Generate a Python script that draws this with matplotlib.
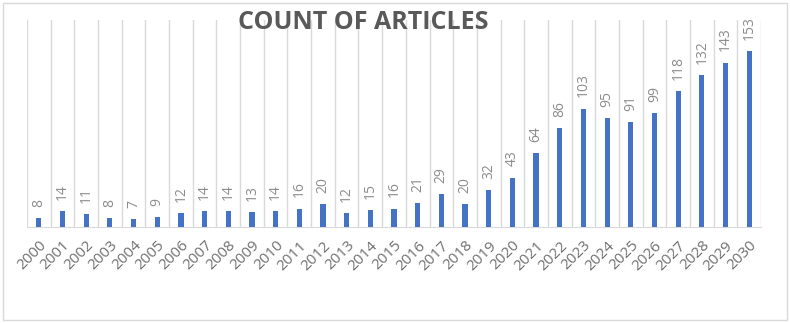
import numpy as np
import matplotlib
matplotlib.use("Agg")
import matplotlib.pyplot as plt
from matplotlib.patches import Rectangle

years = [str(y) for y in range(2000, 2031)]
counts = [8, 14, 11, 8, 7, 9, 12, 14, 14, 13, 14, 16, 20, 12, 15, 16,
          21, 29, 20, 32, 43, 64, 86, 103, 95, 91, 99, 118, 132, 143, 153]

plt.rcParams['font.family'] = ['Open Sans', 'DejaVu Sans']

fig = plt.figure(figsize=(7.9, 3.23), dpi=100)
ax = fig.add_axes([0.0342, 0.2972, 0.9291, 0.6408])

x = np.arange(len(years))
bars = ax.bar(x, counts, width=0.22, color='#4472C4', zorder=3)
ax.bar_label(bars, labels=[str(c) for c in counts], rotation=90,
             padding=8, color='#8c8c8c', fontsize=10)

ax.set_xlim(-0.5, len(years) - 0.5)
ax.set_ylim(0, 180)
ax.set_xticks(x)
ax.set_xticklabels(years, rotation=45, ha='right', va='top',
                   rotation_mode='anchor', color='#6f6f6f', fontsize=11)
ax.set_xticks(np.arange(-0.5, len(years), 1), minor=True)
ax.tick_params(axis='x', which='both', length=0, pad=8)
ax.grid(which='minor', axis='x', color='#d9d9d9', linewidth=1, zorder=0)
ax.set_yticks([])
for s in ['top', 'left', 'right']:
    ax.spines[s].set_visible(False)
ax.spines['bottom'].set_color('#d9d9d9')

fig.text(0.46, 0.93, 'COUNT OF ARTICLES', ha='center', va='center',
         fontsize=18, fontweight='bold', color='#595959')

fig.patches.append(Rectangle((0.004, 0.008), 0.992, 0.984, transform=fig.transFigure,
                             fill=False, edgecolor='#d9d9d9', linewidth=1))

fig.savefig('out.png', dpi=100)
